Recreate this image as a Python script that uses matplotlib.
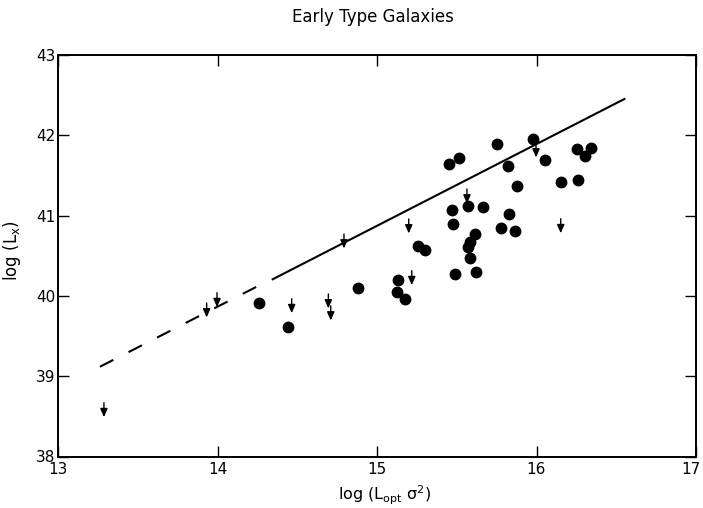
import matplotlib
matplotlib.use("Agg")
import matplotlib.pyplot as plt
from matplotlib.transforms import ScaledTranslation

plt.rcParams['font.family'] = 'DejaVu Sans'
plt.rcParams['mathtext.default'] = 'regular'

# detections: log(Lopt sigma^2), log(Lx)
det_x = [15.453, 15.516, 15.754, 15.976, 15.821, 16.051, 16.252, 16.344,
         16.306, 16.156, 16.260, 15.876, 15.472, 15.571, 15.666, 15.829,
         15.475, 15.777, 15.867, 15.616, 15.585, 15.571, 15.257, 15.301,
         15.581, 15.489, 15.621, 15.130, 15.127, 15.177, 14.262, 14.444,
         14.883]
det_y = [41.646, 41.721, 41.888, 41.954, 41.614, 41.692, 41.826, 41.842,
         41.748, 41.418, 41.440, 41.365, 41.073, 41.123, 41.107, 41.020,
         40.892, 40.846, 40.804, 40.771, 40.675, 40.609, 40.618, 40.572,
         40.476, 40.269, 40.298, 40.198, 40.049, 39.961, 39.915, 39.609,
         40.102]

# upper limits
lim_x = [13.288, 13.932, 13.997, 14.465, 14.695, 14.710, 14.793, 15.199,
         15.218, 15.564, 15.997, 16.152]
lim_y = [38.670, 39.912, 40.040, 39.965, 40.024, 39.874, 40.771, 40.958,
         40.314, 41.331, 41.904, 40.961]
arrow_len = 0.18

# fitted relation (dashed part is extrapolated)
dash_x = [13.263, 14.246]
dash_y = [39.118, 40.115]
solid_x = [14.346, 16.551]
solid_y = [40.207, 42.452]

fig = plt.figure(figsize=(7.03, 5.08), dpi=100)
ax = fig.add_axes([58/703, 1-456.5/508, 638/703, 401.5/508])

ax.plot(det_x, det_y, 'o', color='black', markersize=7.5, zorder=3)
for x, y in zip(lim_x, lim_y):
    ax.annotate('', xy=(x, y - arrow_len), xytext=(x, y),
                arrowprops=dict(arrowstyle='-|>,head_length=0.5,head_width=0.22',
                                color='black', lw=1.0, shrinkA=0, shrinkB=0))

ax.plot(solid_x, solid_y, '-', color='black', lw=1.5)
ln, = ax.plot(dash_x, dash_y, '-', color='black', lw=1.5)
ln.set_dashes((7.2, 8.2))

ax.set_xlim(13, 17)
ax.set_ylim(38, 43)
ax.set_xticks([13, 14, 15, 16, 17])
ax.set_yticks([38, 39, 40, 41, 42, 43])
ax.tick_params(direction='in', length=8, width=1.0, labelsize=11,
               top=True, right=True)
ax.tick_params(axis='x', pad=4)
ax.tick_params(axis='y', pad=2)
for s in ax.spines.values():
    s.set_linewidth(1.4)

# keep the "17" inside the canvas
lab17 = ax.get_xticklabels()[-1]
lab17.set_transform(lab17.get_transform() +
                    ScaledTranslation(-5/100, 0, fig.dpi_scale_trans))

fig.text(373/703, 1-17/508, 'Early Type Galaxies', ha='center', va='center',
         fontsize=12)
fig.text(385/703, 1-495/508, r'log (L$_{opt}$ $\sigma^{2}$)', ha='center',
         va='center', fontsize=11.5)
fig.text(12/703, 1-250/508, r'log (L$_{x}$)', ha='center', va='center',
         fontsize=12, rotation=90)

fig.savefig('out.png', dpi=100)
